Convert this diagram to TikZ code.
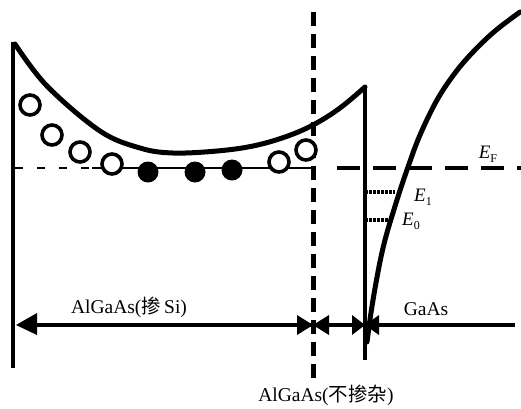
\documentclass[tikz,border=0pt]{standalone}
\usepackage{fontspec}
\setmainfont{Liberation Serif}
\newfontfamily\cjk{Noto Sans CJK SC}
\newcommand\lvlab[2]{\textit{#1}\raisebox{-4pt}{\fontsize{12}{12}\selectfont #2}}
\begin{document}
\begin{tikzpicture}[x=1pt,y=-1pt,
  band/.style={line width=5pt, line cap=round, line join=round},
  wall/.style={line width=4pt},
  fermi/.style={line width=2.5pt},
  level/.style={line width=3.5pt, dash pattern=on 3pt off 1pt},
  hole/.style={line width=3.6pt, draw=black, fill=white},
  elec/.style={fill=black},
  tip/.style={fill=black},
  lab/.style={font=\fontsize{19.5}{22}\selectfont, inner sep=0pt},
  elab/.style={font=\fontsize{19}{22}\selectfont, inner sep=0pt}]
\useasboundingbox (0,0) rectangle (521,408);

% key coordinates
\coordinate (LT) at (13,42);
\coordinate (LB) at (13,368);
\coordinate (PK) at (365,87);
\coordinate (MB) at (365,360);
\coordinate (DT) at (313,12);
\coordinate (DB) at (313,382);
\coordinate (AL) at (16,325);
\coordinate (AR) at (515,325);

% left wall
\draw[wall] (LT) -- (LB);
% AlGaAs conduction band
\draw[band] plot[smooth, tension=0.6] coordinates {(15,44) (47,86) (100,131) (140,148) (173,153) (217,151) (253,146) (285,137) (313,125) (340,108) (365,87)};
% heterointerface wall
\draw[wall] (PK) -- (MB);
% GaAs conduction band
\draw[band] plot[smooth, tension=0.6] coordinates {(367,342) (373,300) (383,248) (396,203) (408,167) (420,135) (437,100) (455,73) (473,52) (495,31) (520,12)};
% spacer boundary (dotted)
\draw[line width=5pt, dash pattern=on 14pt off 8pt] (DT) -- (DB);

% Fermi level
\draw[fermi, dash pattern=on 8pt off 14pt] (15,168) -- (92,168);
\draw[fermi] (92,168) -- (313,168);
\draw[line width=4pt, dash pattern=on 23pt off 13pt] (337,168) -- (521,168);

% subband levels
\draw[level] (365,192) -- (395,192);
\draw[level] (365,220) -- (389,220);

% holes (ionized donors) and electrons
\foreach \p in {(30,105),(52,135),(80,152),(112,164),(279,162),(306,150)}
  \draw[hole] \p circle (10);
\foreach \p in {(148,172),(195,172),(232,170)}
  \fill[elec] \p circle (10.5);

% bottom axis
\draw[line width=3.5pt] (35,325) -- (AR);
\fill[tip] (AL) -- (37,313) -- (37,335) -- cycle;
% bowtie marks at boundaries
\fill[tip] (297,315) -- (313,325) -- (297,335) -- cycle;
\fill[tip] (329,315) -- (313,325) -- (329,335) -- cycle;
\fill[tip] (352,315) -- (365,325) -- (352,335) -- cycle;
\fill[tip] (379,315) -- (365,325) -- (379,335) -- cycle;

% labels
\node[elab] (ef) at (488,154) {\lvlab{E}{F}};
\node[elab] (e1) at (423,197) {\lvlab{E}{1}};
\node[elab] (e0) at (411,221) {\lvlab{E}{0}};
\node[lab] (l1) at (129,307) {AlGaAs({\cjk 掺}\,Si)};
\node[lab] (l2) at (426,309) {GaAs};
\node[lab] (l3) at (326,395) {AlGaAs({\cjk 不掺杂})};
\end{tikzpicture}
\end{document}
